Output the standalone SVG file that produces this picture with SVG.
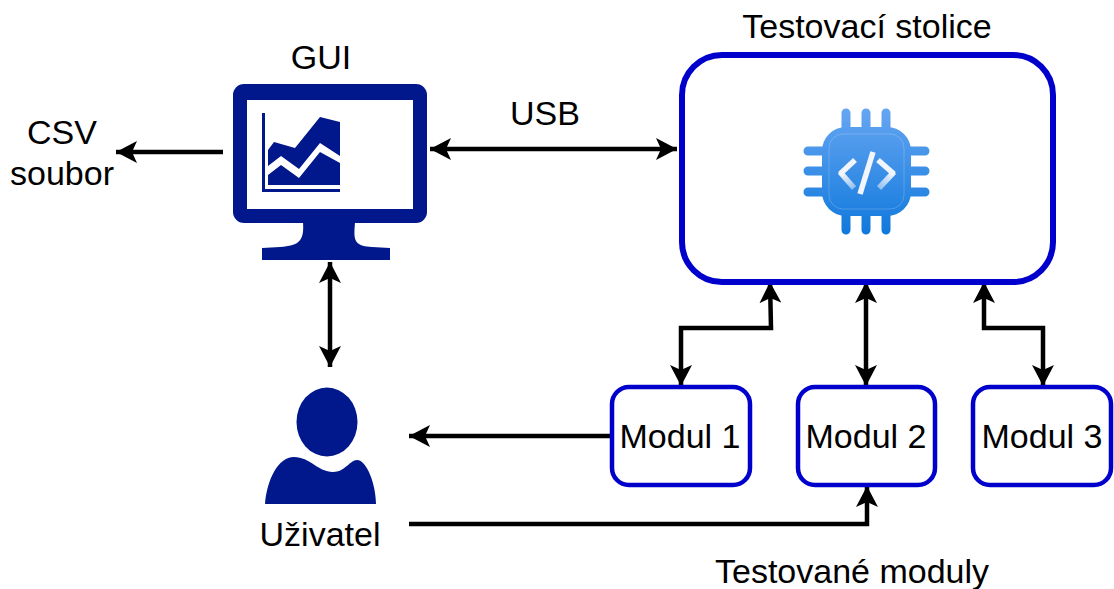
<svg xmlns="http://www.w3.org/2000/svg" width="1114" height="589" viewBox="0 0 1114 589">
<defs>
<style>
text{font-family:"Liberation Sans",Arial,sans-serif;font-size:34px;fill:#000;text-anchor:middle}
.mod{fill:#fff;stroke:#0000cc;stroke-width:4.500px}
.c{fill:none;stroke:#000;stroke-width:4.500px}
.navy{fill:#00188c}
.pin{stroke:url(#chipG);stroke-width:9px;stroke-linecap:round;fill:none}
</style>
<marker id="a" viewBox="0 0 22 22" refX="21" refY="11" markerWidth="22" markerHeight="22" markerUnits="userSpaceOnUse" orient="auto-start-reverse"><path d="M0 0L21 11L0 22L5 11Z" fill="#000"/></marker>
<linearGradient id="chipG" gradientUnits="userSpaceOnUse" x1="866" y1="108" x2="866" y2="235"><stop offset="0" stop-color="#66a6f2"/><stop offset="1" stop-color="#0f78dc"/></linearGradient>
<linearGradient id="fadeL" gradientUnits="userSpaceOnUse" x1="845" y1="172" x2="855" y2="190"><stop offset="0" stop-color="#f2f6fc"/><stop offset="1" stop-color="#f2f6fc" stop-opacity=".45"/></linearGradient>
<linearGradient id="fadeR" gradientUnits="userSpaceOnUse" x1="892" y1="172" x2="878" y2="190"><stop offset="0" stop-color="#f2f6fc"/><stop offset="1" stop-color="#f2f6fc" stop-opacity=".45"/></linearGradient>
</defs>
<rect width="1114" height="589" fill="#fff"/>
<g id="connectors">
<path class="c" d="M223 152H116" marker-end="url(#a)"/>
<path class="c" d="M430 149H677" marker-start="url(#a)" marker-end="url(#a)"/>
<path class="c" d="M330 262V367" marker-start="url(#a)" marker-end="url(#a)"/>
<path class="c" d="M770 282L771 328H681V386" marker-start="url(#a)" marker-end="url(#a)"/>
<path class="c" d="M866 282V386" marker-start="url(#a)" marker-end="url(#a)"/>
<path class="c" d="M984 282V328H1043V386" marker-start="url(#a)" marker-end="url(#a)"/>
<path class="c" d="M612 436H409" marker-end="url(#a)"/>
<path class="c" d="M409 524H867V486" marker-end="url(#a)"/>
</g>
<g id="gui">
<rect x="233" y="84" width="194" height="139" rx="11" class="navy"/>
<rect x="247" y="100" width="166" height="109" fill="#fff"/>
<path class="navy" d="M303 222H355C354 238 352 246 372 247L390 248V260H262V248L280 247C302 246 304 238 303 222Z"/>
<path class="navy" d="M262 113H265V189H340V192H262Z"/>
<path class="navy" d="M268 150L274 142L295 148L320 117L340 122V156L320 143L299 169L281 156L268 166Z"/>
<path class="navy" d="M268 175L281 165L299 178L320 152L340 163V185H268Z"/>
<text x="321" y="69">GUI</text>
</g>
<g id="csv">
<text x="62" y="144">CSV</text>
<text x="62" y="185">soubor</text>
</g>
<text x="545" y="125">USB</text>
<g id="stolice">
<rect x="682" y="55" width="371" height="227" rx="40" fill="#fff" stroke="#0000cc" stroke-width="6"/>
<text x="867" y="38">Testovací stolice</text>
<path class="pin" d="M846 113V132M866 113V132M886 113V132M846 212V230M866 212V230M886 212V230M808 151H828M808 171H828M808 192H828M905 151H925M905 171H925M905 192H925"/>
<rect x="822" y="127" width="89" height="89" rx="24" fill="url(#chipG)"/>
<rect x="829" y="134" width="75" height="75" rx="14" fill="none" stroke="#fff" stroke-opacity=".2" stroke-width="1"/>
<path d="M855 160L840 174" fill="none" stroke="#f2f6fc" stroke-width="5.500"/>
<path d="M840 172L854 188" fill="none" stroke="url(#fadeL)" stroke-width="5.500"/>
<path d="M878 160L894 174" fill="none" stroke="#f2f6fc" stroke-width="5.500"/>
<path d="M894 172L879 188" fill="none" stroke="url(#fadeR)" stroke-width="5.500"/>
<path d="M873 152L860 194" fill="none" stroke="#f2f6fc" stroke-width="5.500"/>
</g>
<g id="uzivatel">
<ellipse cx="327" cy="422" rx="30.500" ry="34.500" class="navy"/>
<path class="navy" d="M265 504C267 480 278 457 294 457C310 457 318 472 333 472C345 472 350 460 357 460C367 460 376 485 376 504Z"/>
<text x="320" y="546">Uživatel</text>
</g>
<g id="modul1"><rect x="612" y="387" width="138" height="98" rx="17" class="mod"/><text x="680" y="448">Modul 1</text></g>
<g id="modul2"><rect x="798" y="387" width="137" height="98" rx="17" class="mod"/><text x="866" y="448">Modul 2</text></g>
<g id="modul3"><rect x="973" y="387" width="138" height="98" rx="17" class="mod"/><text x="1042" y="448">Modul 3</text></g>
<text x="852" y="583">Testované moduly</text>
</svg>
